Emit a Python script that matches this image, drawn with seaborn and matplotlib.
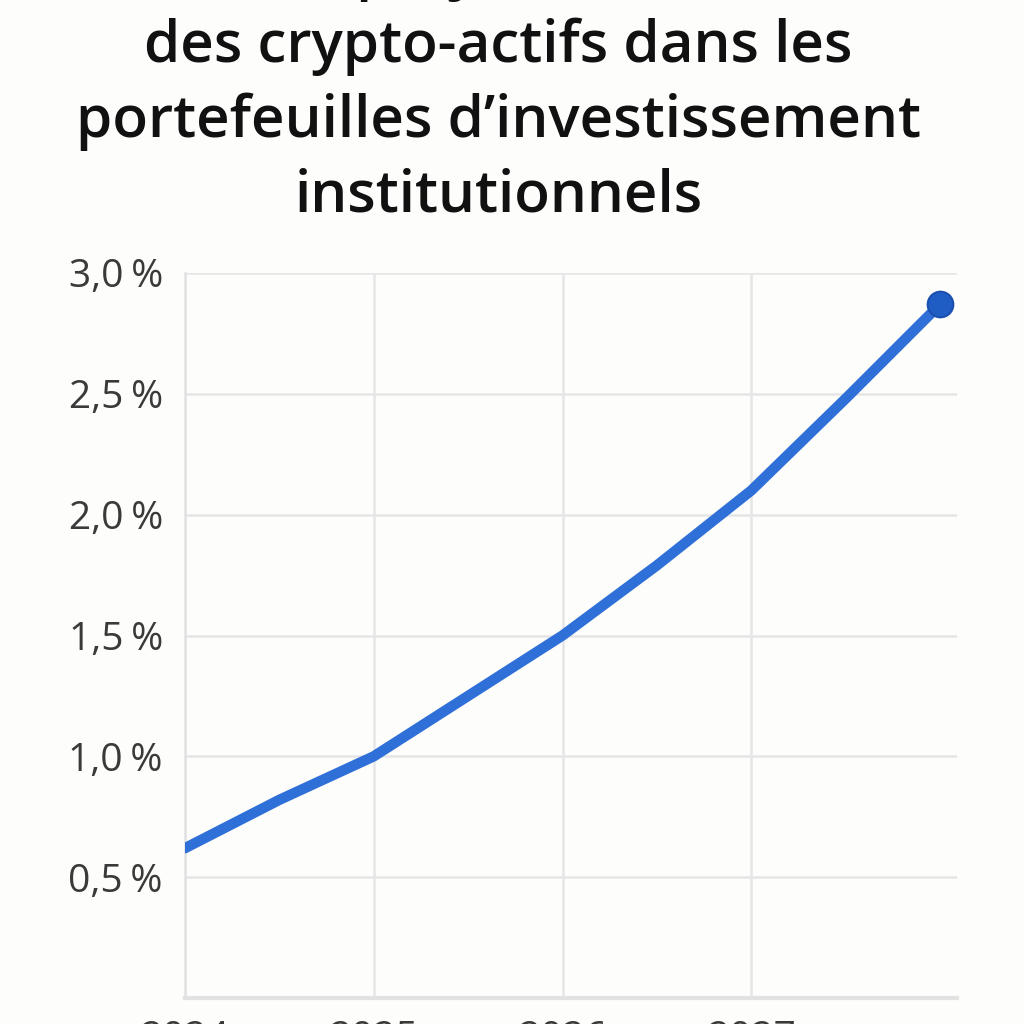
import matplotlib
matplotlib.use("Agg")
import matplotlib.pyplot as plt
import seaborn as sns
import pandas as pd
from matplotlib.ticker import FuncFormatter

# valeurs (part en % des portefeuilles)
annees = [2024.0, 2024.5, 2025.0, 2025.5, 2026.0, 2026.5, 2027.0, 2027.5, 2028.0]
part = [0.62, 0.82, 1.00, 1.25, 1.50, 1.79, 2.10, 2.48, 2.87]
annees_ticks = [2024, 2025, 2026, 2027]
y_ticks = [0.5, 1.0, 1.5, 2.0, 2.5, 3.0]
titre = ["Part projetée, en %,",
         "des crypto-actifs dans les",
         "portefeuilles d\u2019investissement",
         "institutionnels"]

df = pd.DataFrame({"annee": annees, "part": part})

sns.set_theme(style="white")
plt.rcParams["font.family"] = ["Open Sans", "DejaVu Sans"]

bg = "#fdfdfb"
fig = plt.figure(figsize=(10.24, 10.24), dpi=100, facecolor=bg)
ax = fig.add_axes([185 / 1024, 26 / 1024, 772 / 1024, (998 - 273) / 1024])
ax.set_facecolor(bg)

sns.lineplot(data=df, x="annee", y="part", ax=ax, color="#2f6fd8",
             linewidth=7.5, solid_capstyle="round", zorder=3)
sns.scatterplot(x=[annees[-1]], y=[part[-1]], ax=ax, s=340, color="#1f5cc4",
                edgecolor="#1a50b0", linewidth=1.5, zorder=4, clip_on=False)

ax.set_xlim(2024, 2024 + 772 / 188.75)
ax.set_ylim(0, 3.0)
ax.set_xticks(annees_ticks)
ax.set_yticks(y_ticks)
ax.yaxis.set_major_formatter(FuncFormatter(lambda v, p: f"{v:.1f}".replace(".", ",") + "\u202f%"))
ax.xaxis.set_major_formatter(FuncFormatter(lambda v, p: f"{int(v)}"))
ax.grid(True, color="#e6e6e6", linewidth=1.8)
ax.tick_params(axis="both", length=0, labelsize=28, labelcolor="#3a3a3a")
ax.tick_params(axis="y", pad=16)
ax.tick_params(axis="x", pad=16)
ax.set_xlabel("")
ax.set_ylabel("")

for s in ["top", "right"]:
    ax.spines[s].set_visible(False)
ax.spines["left"].set_color("#e2e2e2")
ax.spines["left"].set_linewidth(1.8)
ax.spines["bottom"].set_color("#e2e2e2")
ax.spines["bottom"].set_linewidth(3)

# titre sur plusieurs lignes, la premiere sort du cadre comme sur l'original
lignes_y = [-12, 62, 137, 212]
for ligne, yb in zip(titre, lignes_y):
    fig.text(0.487, 1 - yb / 1024, ligne, ha="center", va="baseline",
             fontsize=42, color="#111111", fontweight="semibold")

fig.savefig("out.png", dpi=100, facecolor=bg)
